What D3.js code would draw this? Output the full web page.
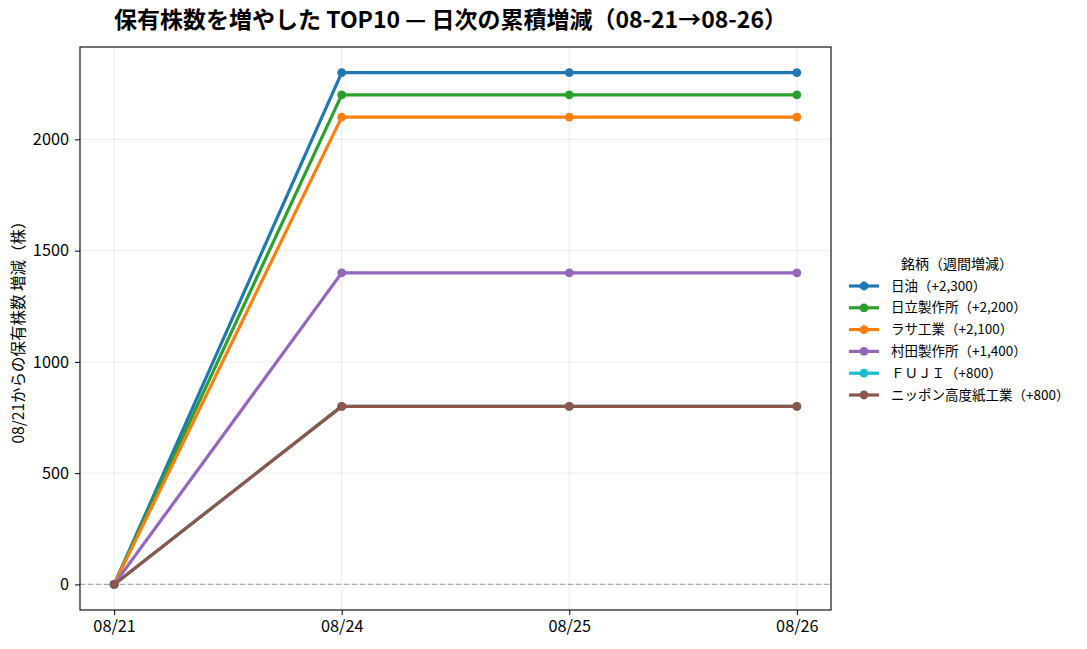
<!DOCTYPE html>
<html><head><meta charset="utf-8">
<script src="https://cdn.jsdelivr.net/npm/d3@7"></script>
<style>
body{margin:0;background:#fff;}
text{font-family:"Noto Sans CJK JP","Noto Sans",sans-serif;}
</style></head>
<body><svg id="c" width="1087" height="649"></svg>
<script>
const dates = ["08/21","08/24","08/25","08/26"];
const names = ["日油","日立製作所","ラサ工業","村田製作所","ＦＵＪＩ","ニッポン高度紙工業"];
const weekly = ["+2,300","+2,200","+2,100","+1,400","+800","+800"];
const colors = ["#1f77b4","#2ca02c","#ff7f0e","#9467bd","#17becf","#8c564b"];
const values = [
  [0,2300,2300,2300],
  [0,2200,2200,2200],
  [0,2100,2100,2100],
  [0,1400,1400,1400],
  [0,800,800,800],
  [0,800,800,800]
];
const yTicks = [0,500,1000,1500,2000];

const svg = d3.select("#c");
const L=80,R=831,T=47,B=610;
const x = d3.scaleLinear().domain([-0.15,3.15]).range([L,R]);
const y = d3.scaleLinear().domain([-115,2415]).range([B,T]);

// grid
const g = svg.append("g");
g.selectAll(".gx").data(dates).enter().append("line")
  .attr("x1",(d,i)=>x(i)).attr("x2",(d,i)=>x(i)).attr("y1",T).attr("y2",B)
  .attr("stroke","#b0b0b0").attr("stroke-opacity",0.3).attr("stroke-width",0.8);
g.selectAll(".gy").data(yTicks).enter().append("line")
  .attr("x1",L).attr("x2",R).attr("y1",d=>y(d)).attr("y2",d=>y(d))
  .attr("stroke","#b0b0b0").attr("stroke-opacity",0.3).attr("stroke-width",0.8);
// zero line
g.append("line").attr("x1",L).attr("x2",R).attr("y1",y(0)).attr("y2",y(0))
  .attr("stroke","#999").attr("stroke-opacity",0.8).attr("stroke-width",1.1).attr("stroke-dasharray","5,3");

// axes
const xAxis = d3.axisBottom(x).tickValues(d3.range(dates.length)).tickFormat(i=>dates[i]).tickSize(5).tickPadding(5);
const yAxis = d3.axisLeft(y).tickValues(yTicks).tickFormat(d3.format("d")).tickSize(5).tickPadding(6);
const ax = svg.append("g").attr("transform",`translate(0,${B})`).call(xAxis);
const ay = svg.append("g").attr("transform",`translate(${L},0)`).call(yAxis);
[ax,ay].forEach(a=>{a.attr("font-size",null).attr("font-family",null);a.select(".domain").remove();a.selectAll("text").style("font-size","16.3px").attr("fill","#000").style("font-family","'Noto Sans CJK JP'");a.selectAll("line").attr("stroke","#000");});

// lines
const line = d3.line().x((d,i)=>x(i)).y(d=>y(d));
values.forEach((vals,k)=>{
  svg.append("path").datum(vals).attr("d",line).attr("fill","none")
    .attr("stroke",colors[k]).attr("stroke-width",3.2).attr("stroke-linejoin","round");
  svg.selectAll(null).data(vals).enter().append("circle")
    .attr("cx",(d,i)=>x(i)).attr("cy",d=>y(d)).attr("r",4.4).attr("fill",colors[k]);
});

// frame
svg.append("rect").attr("x",L).attr("y",T).attr("width",R-L).attr("height",B-T)
  .attr("fill","none").attr("stroke","#000").attr("stroke-width",1.1);

// title
svg.append("text").attr("x",(L+R)/2-5).attr("y",28).attr("text-anchor","middle")
  .style("font-size","23px").attr("font-weight","bold").text("保有株数を増やした TOP10 — 日次の累積増減（08-21→08-26）");
// y label
svg.append("text").attr("transform",`translate(24,${(T+B)/2}) rotate(-90)`).attr("text-anchor","middle")
  .style("font-size","15.5px").text("08/21からの保有株数 増減（株）");

// legend
const lg = svg.append("g");
lg.append("text").attr("x",957).attr("y",269).attr("text-anchor","middle").style("font-size","14px").text("銘柄（週間増減）");
names.forEach((n,k)=>{
  const yy = 286 + k*21.8;
  lg.append("line").attr("x1",849).attr("x2",879).attr("y1",yy).attr("y2",yy).attr("stroke",colors[k]).attr("stroke-width",3.2);
  lg.append("circle").attr("cx",864).attr("cy",yy).attr("r",4.4).attr("fill",colors[k]);
  lg.append("text").attr("x",891).attr("y",yy+4.5).style("font-size","13.5px").text(`${n}（${weekly[k]}）`);
});
</script></body></html>
